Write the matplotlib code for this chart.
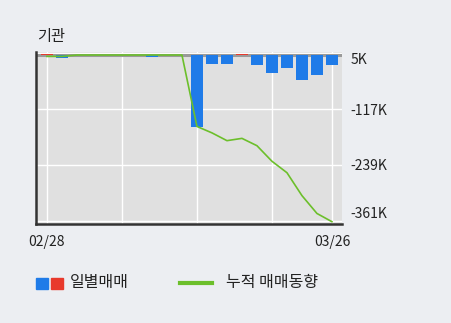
import matplotlib
matplotlib.use("Agg")
import matplotlib.pyplot as plt
import numpy as np

plt.rcParams['font.family'] = ['Noto Sans CJK KR', 'DejaVu Sans']

dates = ["02/28", "03/02", "03/03", "03/04", "03/05", "03/06", "03/09", "03/10", "03/11", "03/12",
         "03/13", "03/16", "03/17", "03/18", "03/19", "03/20", "03/23", "03/24", "03/25", "03/26"]
daily = [3, -5, 0, 0, 0, 0, 0, -4, 0, 0, -157, -18, -18, 4, -21, -38, -27, -53, -42, -21]  # K
cumulative = [-2, -2, 1, 1, 1, 1, 1, 1, 1, 1, -155, -169, -186, -181, -197, -231, -256, -306, -345, -363]
yticks = [5, -117, -239, -361]
ytick_labels = ["5K", "-117K", "-239K", "-361K"]
xtick_idx = [0, 19]
grid_idx = [0, 5, 10, 15, 19]

BLUE = '#1f7be8'
RED = '#e8392c'
GREEN = '#6cbf2b'

fig = plt.figure(figsize=(4.51, 3.23), dpi=100)
fig.patch.set_facecolor('#eceef2')
ax = fig.add_axes([36/451, 1-224/323, (342-36)/451, (224-52)/323])
ax.set_facecolor('#e0e0e0')

x = np.arange(len(dates))
colors = [RED if v > 0 else BLUE for v in daily]
for gx in grid_idx:
    ax.axvline(gx, color='white', lw=1.0, zorder=1)
for gy in yticks:
    ax.axhline(gy, color='white', lw=1.0, zorder=1)
ax.axhline(0, color='#9a9a9a', lw=2.2, zorder=2)
ax.bar(x, daily, width=0.85, color=colors, zorder=3)
ax.plot(x, cumulative, color=GREEN, lw=1.2, zorder=4)

ax.set_xlim(-0.73, 19.67)
ax.set_ylim(-368, 7.6)

ax.yaxis.tick_right()
ax.set_yticks(yticks)
ax.set_yticklabels(ytick_labels, fontsize=10, color='#222222')
labs = ax.get_yticklabels()
labs[0].set_va('top')
labs[-1].set_va('bottom')
ax.set_xticks(xtick_idx)
ax.set_xticklabels([dates[i] for i in xtick_idx], fontsize=10, color='#222222')
ax.tick_params(axis='both', length=0)
ax.tick_params(axis='y', pad=6)
ax.tick_params(axis='x', pad=8)

for s in ['top', 'right']:
    ax.spines[s].set_visible(False)
for s in ['left', 'bottom']:
    ax.spines[s].set_color('#333333')
    ax.spines[s].set_linewidth(1.8)

fig.text(37/451, 1-36/323, "기관", fontsize=11, color='#222222', va='center', ha='left')

# legend
fig.patches.append(plt.Rectangle((36/451, 1-289/323), 12/451, 11/323, transform=fig.transFigure, color=BLUE))
fig.patches.append(plt.Rectangle((51/451, 1-289/323), 12/451, 11/323, transform=fig.transFigure, color=RED))
fig.text(70/451, 1-283/323, "일별매매", fontsize=11.5, color='#222222', va='center', ha='left')
fig.lines.append(plt.Line2D([180/451, 212/451], [1-283/323, 1-283/323], transform=fig.transFigure, color=GREEN, lw=3))
fig.text(226/451, 1-283/323, "누적 매매동향", fontsize=11.5, color='#222222', va='center', ha='left')

fig.savefig("out.png", dpi=100, facecolor=fig.get_facecolor())
